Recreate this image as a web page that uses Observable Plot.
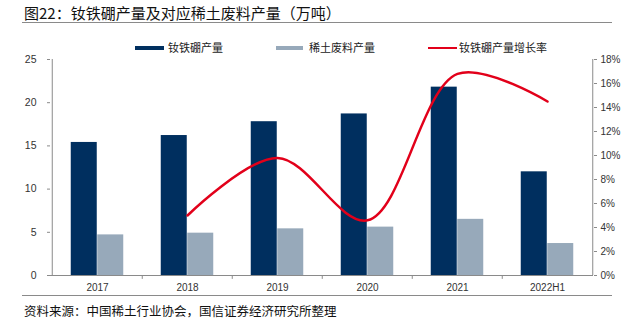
<!DOCTYPE html>
<html><head><meta charset="utf-8">
<script src="https://cdn.jsdelivr.net/npm/d3@7"></script>
<script src="https://cdn.jsdelivr.net/npm/@observablehq/plot@0.6"></script>
<style>
body{margin:0;background:#fff;}
#wrap{position:relative;width:636px;height:321px;overflow:hidden;font-family:"Liberation Sans","Noto Sans CJK SC",sans-serif;}
#wrap svg{position:absolute;left:0;top:0;}
.abs{position:absolute;white-space:nowrap;line-height:1;font-family:"Noto Sans CJK SC","Liberation Sans",sans-serif;}
.hr{position:absolute;left:22px;width:590px;height:1px;background:#8a8a8a;}
.sw{position:absolute;}
.lg{font-size:11px;color:#222;top:42px;}
</style></head>
<body><div id="wrap">
<div class="abs" style="left:24px;top:5px;font-size:15px;color:#111;">图22：钕铁硼产量及对应稀土废料产量（万吨）</div>
<div class="hr" style="top:22px;"></div>
<div class="sw" style="left:135px;top:46px;width:29px;height:4px;background:#002f5f;"></div>
<div class="abs lg" style="left:168px;">钕铁硼产量</div>
<div class="sw" style="left:276px;top:46px;width:27px;height:4px;background:#97a9ba;"></div>
<div class="abs lg" style="left:309px;">稀土废料产量</div>
<div class="sw" style="left:428px;top:47px;width:29px;height:2px;background:#e2001a;"></div>
<div class="abs lg" style="left:459px;">钕铁硼产量增长率</div>
<div class="hr" style="top:295px;"></div>
<div class="abs" style="left:24px;top:305px;font-size:12.5px;color:#111;">资料来源：中国稀土行业协会，国信证券经济研究所整理</div>
</div>
<script>
const categories = ["2017","2018","2019","2020","2021","2022H1"];
const ndfebOutput = [15.4,16.2,17.8,18.7,21.8,12.0];
const wasteOutput = [4.7,4.9,5.4,5.6,6.5,3.7];
const growthCategories = ["2018","2019","2020","2021","2022H1"];
const growthRate = [5.0,9.8,4.6,16.8,14.5];
const leftTicks = [0,5,10,15,20,25];
const rightTicks = [0,2,4,6,8,10,12,14,16,18];

const W = 636, H = 295, mL = 50, mR = 43, mT = 59, mB = 20;
const bw = (W - mL - mR) / categories.length;
const barW = 26.5;
const toLeft = p => p * 25 / 18;

const bars = categories.map((c,i)=>({c, a: ndfebOutput[i], b: wasteOutput[i]}));
const line = growthCategories.map((c,i)=>({c, g: growthRate[i]}));
const axisCol = "#8a8a8a";

const chart = Plot.plot({
  width: W, height: H,
  marginLeft: mL, marginRight: mR, marginTop: mT, marginBottom: mB,
  style: {fontFamily: '"Liberation Sans","Noto Sans CJK SC",sans-serif', fontSize: "10px", color: "#333", background: "transparent"},
  x: {type: "band", domain: categories, padding: 0, axis: null, label: null},
  y: {domain: [0, 25], axis: null, label: null},
  marks: [
    Plot.barY(bars, {x: "c", y: "a", fill: "#002f5f", insetLeft: bw/2 - barW, insetRight: bw/2}),
    Plot.barY(bars, {x: "c", y: "b", fill: "#97a9ba", insetLeft: bw/2, insetRight: bw/2 - barW}),
    Plot.ruleY([0], {stroke: axisCol, strokeWidth: 1}),
    Plot.ruleX([categories[0]], {x: d=>d, dx: -bw/2, y1: 0, y2: 25, stroke: axisCol}),
    Plot.ruleX([categories[categories.length-1]], {x: d=>d, dx: bw/2, y1: 0, y2: 25, stroke: axisCol}),
    Plot.ruleX(categories.slice(1), {x: d=>d, dx: -bw/2, y1: 0, y2: -0.45, stroke: axisCol}),
    Plot.axisX({anchor: "bottom", label: null, tickSize: 0, tickPadding: 8, fill: "#333", fontSize: 10}),
    Plot.axisY({anchor: "left", label: null, ticks: leftTicks, tickSize: 3, tickPadding: 11, stroke: axisCol, fill: "#333", fontSize: 10.5}),
    Plot.axisY({anchor: "right", label: null, ticks: rightTicks.map(toLeft), tickFormat: v => Math.round(v*18/25) + "%", tickSize: 3, tickPadding: 4, stroke: axisCol, fill: "#333", fontSize: 10}),
    Plot.line(line, {x: "c", y: d => toLeft(d.g), curve: "catmull-rom", stroke: "#e2001a", strokeWidth: 2.5})
  ]
});
document.getElementById("wrap").prepend(chart);
</script>
</body></html>
